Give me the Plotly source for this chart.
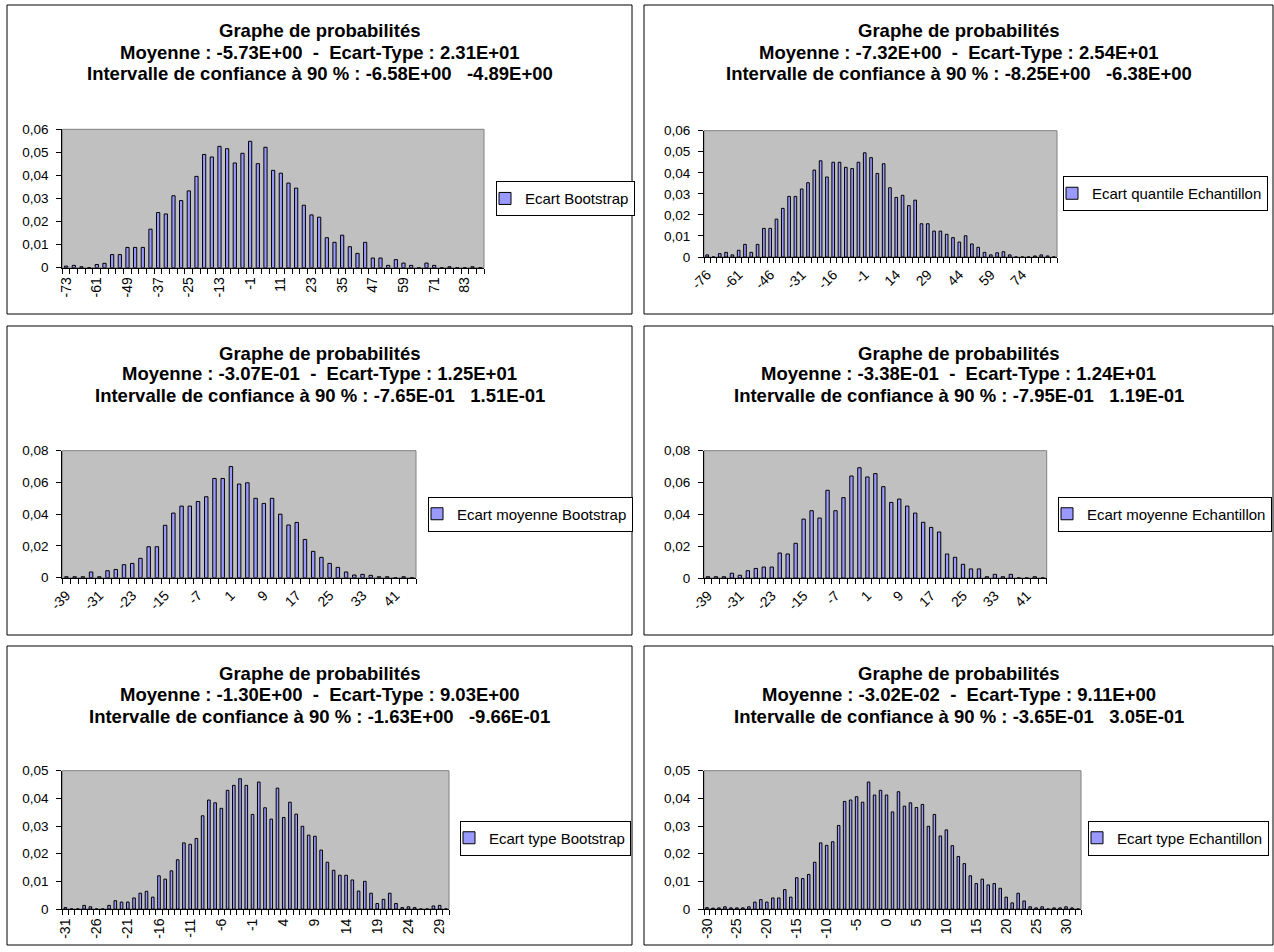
import plotly.graph_objects as go

W, H = 1274, 952
FONT = "Liberation Sans, Arial, sans-serif"

# ---------------- data ----------------
cat1 = [-73, -70, -67, -64, -61, -58, -55, -52, -49, -46, -43, -40, -37, -34, -31, -28, -25, -22, -19, -16,
        -13, -10, -7, -4, -1, 2, 5, 8, 11, 14, 17, 20, 23, 26, 29, 32, 35, 38, 41, 44,
        47, 50, 53, 56, 59, 62, 65, 68, 71, 74, 77, 80, 83, 86, 89]
val1 = [0.0007, 0.001, 0.0004, 0, 0.0014, 0.0019, 0.0057, 0.0057, 0.0088, 0.0088, 0.0088, 0.0167, 0.0239, 0.0233,
        0.0312, 0.0291, 0.0333, 0.0396, 0.0491, 0.048, 0.0526, 0.0516, 0.0454, 0.0496, 0.0548, 0.0451, 0.0522,
        0.0422, 0.041, 0.0367, 0.0345, 0.0271, 0.0229, 0.0219, 0.013, 0.011, 0.0141, 0.0091, 0.0062, 0.011,
        0.0042, 0.0042, 0.001, 0.0035, 0.002, 0.001, 0, 0.002, 0.001, 0, 0.0004, 0, 0, 0.0004, 0]
tick1 = [-73, -61, -49, -37, -25, -13, -1, 11, 23, 35, 47, 59, 71, 83]

cat2 = [-76, -73, -70, -67, -64, -61, -58, -55, -52, -49, -46, -43, -40, -37, -34, -31, -28, -25, -22, -19,
        -16, -13, -10, -7, -4, -1, 2, 5, 8, 11, 14, 17, 20, 23, 26, 29, 32, 35, 38, 41,
        44, 47, 50, 53, 56, 59, 62, 65, 68, 71, 74, 77, 80, 83, 86, 89]
val2 = [0.001, 0, 0.0016, 0.0022, 0.001, 0.0032, 0.006, 0.0022, 0.006, 0.0136, 0.0136, 0.018, 0.0231, 0.0288,
        0.0288, 0.0323, 0.0353, 0.0413, 0.0457, 0.038, 0.045, 0.045, 0.0426, 0.042, 0.045, 0.0495, 0.0472,
        0.0397, 0.0443, 0.0329, 0.0283, 0.0293, 0.0244, 0.027, 0.0158, 0.0158, 0.0123, 0.0123, 0.0108, 0.0092,
        0.0071, 0.0101, 0.0062, 0.0046, 0.0022, 0.001, 0.002, 0.0025, 0.001, 0, 0, 0, 0.0005, 0.001, 0.0005, 0]
tick2 = [-76, -61, -46, -31, -16, -1, 14, 29, 44, 59, 74]

cat3 = [-39, -37, -35, -33, -31, -29, -27, -25, -23, -21, -19, -17, -15, -13, -11, -9, -7, -5, -3, -1,
        1, 3, 5, 7, 9, 11, 13, 15, 17, 19, 21, 23, 25, 27, 29, 31, 33, 35, 37, 39, 41, 43, 45]
val3 = [0.0006, 0.0006, 0.0006, 0.0036, 0.0006, 0.0044, 0.0052, 0.0082, 0.009, 0.0122, 0.0195, 0.0195, 0.033,
        0.0407, 0.0451, 0.0451, 0.048, 0.051, 0.0625, 0.0625, 0.070, 0.059, 0.0598, 0.050, 0.0468, 0.050,
        0.040, 0.0332, 0.0348, 0.0241, 0.0166, 0.0128, 0.009, 0.0065, 0.0036, 0.0017, 0.0021, 0.0015,
        0.0006, 0.0006, 0, 0.0006, 0]
tick3 = [-39, -31, -23, -15, -7, 1, 9, 17, 25, 33, 41]

cat4 = [-39, -37, -35, -33, -31, -29, -27, -25, -23, -21, -19, -17, -15, -13, -11, -9, -7, -5, -3, -1,
        1, 3, 5, 7, 9, 11, 13, 15, 17, 19, 21, 23, 25, 27, 29, 31, 33, 35, 37, 39, 41, 43, 45]
val4 = [0.0008, 0.0008, 0.0008, 0.003, 0.0017, 0.0046, 0.006, 0.0069, 0.0069, 0.0157, 0.0151, 0.0218, 0.037,
        0.0423, 0.0377, 0.0551, 0.0423, 0.0505, 0.0641, 0.0693, 0.0635, 0.0656, 0.0574, 0.0475, 0.0496,
        0.0452, 0.0408, 0.035, 0.0318, 0.0289, 0.0151, 0.013, 0.0086, 0.0057, 0.0057, 0.0008, 0.0023,
        0.0008, 0.0023, 0, 0, 0.0008, 0]
tick4 = [-39, -31, -23, -15, -7, 1, 9, 17, 25, 33, 41]

cat5 = [-31, -30, -29, -28, -27, -26, -25, -24, -23, -22, -21, -20, -19, -18, -17, -16, -15, -14, -13, -12,
        -11, -10, -9, -8, -7, -6, -5, -4, -3, -2, -1, 0, 1, 2, 3, 4, 5, 6, 7, 8,
        9, 10, 11, 12, 13, 14, 15, 16, 17, 18, 19, 20, 21, 22, 23, 24, 25, 26, 27, 28, 29, 30]
val5 = [0.0005, 0, 0, 0.0013, 0.0008, 0, 0, 0.0013, 0.003, 0.0025, 0.0025, 0.004, 0.0057, 0.0064, 0.0043,
        0.012, 0.0108, 0.0138, 0.0178, 0.0239, 0.0234, 0.0255, 0.0337, 0.0394, 0.0384, 0.0364, 0.0429,
        0.0447, 0.0471, 0.0447, 0.0342, 0.0459, 0.0366, 0.0325, 0.0437, 0.0331, 0.0386, 0.0343, 0.0299,
        0.0267, 0.0263, 0.0213, 0.0169, 0.014, 0.0122, 0.0122, 0.0105, 0.0065, 0.01, 0.0057, 0.002, 0.0035,
        0.0057, 0.002, 0.0005, 0.0008, 0.0005, 0, 0, 0.0011, 0.0013, 0]
tick5 = [-31, -26, -21, -16, -11, -6, -1, 4, 9, 14, 19, 24, 29]

cat6 = [-30, -29, -28, -27, -26, -25, -24, -23, -22, -21, -20, -19, -18, -17, -16, -15, -14, -13, -12, -11,
        -10, -9, -8, -7, -6, -5, -4, -3, -2, -1, 0, 1, 2, 3, 4, 5, 6, 7, 8, 9,
        10, 11, 12, 13, 14, 15, 16, 17, 18, 19, 20, 21, 22, 23, 24, 25, 26, 27, 28, 29, 30, 31, 32]
val6 = [0.0005, 0.0003, 0.0004, 0.0008, 0.0004, 0.0004, 0.0004, 0.0008, 0.0025, 0.0034, 0.0025, 0.004, 0.004,
        0.007, 0.0043, 0.0113, 0.011, 0.0125, 0.0169, 0.0239, 0.023, 0.0243, 0.0302, 0.0389, 0.0394, 0.0406,
        0.0386, 0.0459, 0.0412, 0.0429, 0.0412, 0.0351, 0.0424, 0.0372, 0.0384, 0.0367, 0.0378, 0.0299,
        0.0342, 0.0264, 0.0286, 0.0229, 0.019, 0.0164, 0.012, 0.0092, 0.0108, 0.0087, 0.0092, 0.0075,
        0.0043, 0.0022, 0.0057, 0.0029, 0.0008, 0.0004, 0.0008, 0, 0.0004, 0.0004, 0.0008, 0.0004, 0]
tick6 = [-30, -25, -20, -15, -10, -5, 0, 5, 10, 15, 20, 25, 30]

yvals_06 = [0, 0.01, 0.02, 0.03, 0.04, 0.05, 0.06]
ytext_06 = ["0", "0,01", "0,02", "0,03", "0,04", "0,05", "0,06"]
yvals_08 = [0, 0.02, 0.04, 0.06, 0.08]
ytext_08 = ["0", "0,02", "0,04", "0,06", "0,08"]
yvals_05 = [0, 0.01, 0.02, 0.03, 0.04, 0.05]
ytext_05 = ["0", "0,01", "0,02", "0,03", "0,04", "0,05"]

names = ["Ecart Bootstrap", "Ecart quantile Echantillon", "Ecart moyenne Bootstrap",
         "Ecart moyenne Echantillon", "Ecart type Bootstrap", "Ecart type Echantillon"]
moyennes = ["-5.73E+00", "-7.32E+00", "-3.07E-01", "-3.38E-01", "-1.30E+00", "-3.02E-02"]
ecarts = ["2.31E+01", "2.54E+01", "1.25E+01", "1.24E+01", "9.03E+00", "9.11E+00"]
ic_bas = ["-6.58E+00", "-8.25E+00", "-7.65E-01", "-7.95E-01", "-1.63E+00", "-3.65E-01"]
ic_haut = ["-4.89E+00", "-6.38E+00", "1.51E-01", "1.19E-01", "-9.66E-01", "3.05E-01"]

cats = [cat1, cat2, cat3, cat4, cat5, cat6]
vals = [val1, val2, val3, val4, val5, val6]
ticks = [tick1, tick2, tick3, tick4, tick5, tick6]
yv = [yvals_06, yvals_06, yvals_08, yvals_08, yvals_05, yvals_05]
yt = [ytext_06, ytext_06, ytext_08, ytext_08, ytext_05, ytext_05]

# ---------------- layout geometry (pixels) ----------------
angles = [-90, -45, -45, -45, -90, -90]
boxes = [(7, 5, 632, 314), (644, 5, 1273, 314),
         (7, 326, 632, 635), (644, 326, 1273, 635),
         (7, 646, 632, 945), (644, 646, 1273, 945)]
plots = [(62.3, 129.3, 484, 267.7), (704, 130.7, 1057, 257),
         (62.3, 450.7, 416, 577.7), (704, 450.7, 1046.7, 578),
         (62.3, 770.7, 449, 909), (704, 770.7, 1081, 909)]
title_rows = [(31, 52, 74), (31, 52, 74), (353, 374, 395), (353, 374, 395), (673, 694, 716), (673, 694, 716)]
legend_pos = [(496, 198.7), (1063, 193.5), (428, 514), (1058, 514), (460, 838), (1088, 838)]


def px(x):
    return x / W


def py(y):
    return 1 - y / H


fig = go.Figure()
shapes = []
annotations = []
layout = {}

for i in range(6):
    n = i + 1
    xa = "x" if n == 1 else f"x{n}"
    ya = "y" if n == 1 else f"y{n}"
    lg = "legend" if n == 1 else f"legend{n}"
    c = cats[i]
    step = c[1] - c[0]
    bounds = [v - step / 2 for v in c] + [c[-1] + step / 2]
    xr = [c[0] - step / 2, c[-1] + step / 2]
    x0, y0, x1, y1 = plots[i]

    fig.add_trace(go.Bar(x=c, y=vals[i], name=names[i], xaxis=xa, yaxis=ya, legend=lg,
                         showlegend=True,
                         marker=dict(color="#9999FF", line=dict(color="black", width=1))))

    layout[f"xaxis{n}"] = dict(domain=[px(x0), px(x1)], anchor=ya, range=xr, type="linear",
                               tickmode="array", tickvals=ticks[i], ticktext=[str(t) for t in ticks[i]],
                               tickangle=angles[i], ticks="", showgrid=False, zeroline=False,
                               showline=True, linecolor="black", linewidth=1, automargin=False,
                               ticklabelstandoff=3,
                               tickfont=dict(size=14, family=FONT, color="black"),
                               minor=dict(tickmode="array", tickvals=bounds, ticks="outside",
                                          ticklen=5, tickwidth=1, tickcolor="black", showgrid=False),
                               fixedrange=True)
    # overlay axis giving the part of the tick marks that crosses into the plot area
    layout[f"xaxis{n + 6}"] = dict(overlaying=xa, anchor=ya, range=xr, type="linear",
                                   tickmode="array", tickvals=bounds, ticks="inside", ticklen=4,
                                   tickwidth=1, tickcolor="#5a5a5a", showticklabels=False,
                                   showline=False, showgrid=False, zeroline=False, automargin=False,
                                   fixedrange=True)
    layout[f"yaxis{n}"] = dict(domain=[py(y1), py(y0)], anchor=xa, range=[0, yv[i][-1]],
                               tickmode="array", tickvals=yv[i], ticktext=yt[i],
                               ticks="outside", ticklen=5, tickcolor="black", showgrid=False,
                               zeroline=False, showline=True, linecolor="black", linewidth=1,
                               automargin=False, ticklabelstandoff=5,
                               tickfont=dict(size=13.5, family=FONT, color="black"), fixedrange=True)
    lx, ly = legend_pos[i]
    layout[lg] = dict(x=px(lx), y=py(ly), xanchor="left", yanchor="middle", xref="paper", yref="paper",
                      bordercolor="black", borderwidth=1, bgcolor="white", indentation=-12,
                      font=dict(size=15, family=FONT, color="black"), itemwidth=30)

    # plot-area frame (grey)
    shapes.append(dict(type="rect", xref=f"{xa} domain", yref=f"{ya} domain", x0=0, x1=1, y0=0, y1=1,
                       line=dict(color="#808080", width=1), layer="below"))
    # chart border
    bx0, by0, bx1, by1 = boxes[i]
    shapes.append(dict(type="rect", xref="paper", yref="paper", x0=px(bx0), x1=px(bx1),
                       y0=py(by1), y1=py(by0), line=dict(color="black", width=1)))
    # titles
    cx = (bx0 + bx1) / 2
    nb = "\u00a0"
    lines = ["Graphe de probabilités",
             f"Moyenne : {moyennes[i]}{nb}{nb}-{nb}{nb}Ecart-Type : {ecarts[i]}",
             f"Intervalle de confiance à 90 % : {ic_bas[i]}{nb}{nb}{nb}{ic_haut[i]}"]
    for txt, ty in zip(lines, title_rows[i]):
        annotations.append(dict(text=f"<b>{txt}</b>", x=px(cx), y=py(ty), xref="paper", yref="paper",
                                xanchor="center", yanchor="middle", showarrow=False,
                                font=dict(size=18.5, family=FONT, color="black")))

fig.update_layout(**layout)
fig.update_layout(template="none", width=W, height=H, margin=dict(l=0, r=0, t=0, b=0, pad=0),
                  autosize=False, paper_bgcolor="white",
                  plot_bgcolor="#C0C0C0", bargap=0.58, shapes=shapes, annotations=annotations,
                  font=dict(family=FONT, color="black"))

fig.write_html("out.html", config={"displayModeBar": False},
               post_script="document.body.style.margin='0';document.body.style.overflow='hidden';")
